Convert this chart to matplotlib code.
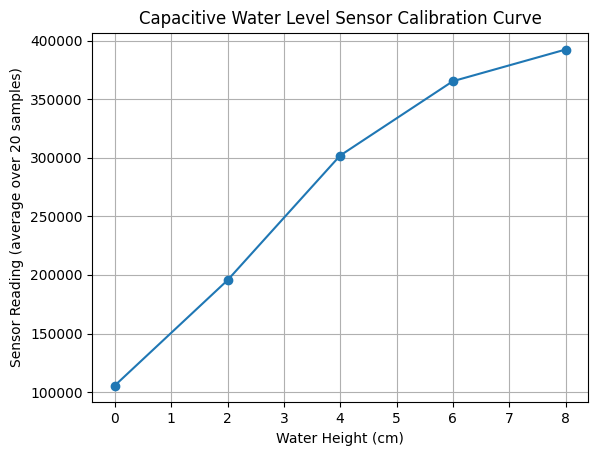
import matplotlib
matplotlib.use("Agg")
import matplotlib.pyplot as plt

heights = [0, 2, 4, 6, 8]
readings = [105700, 195500, 301900, 365300, 392300]

fig = plt.figure(figsize=(5.97, 4.55), dpi=100)
ax = fig.add_axes([0.1546, 0.1158, 0.985 - 0.1546, 0.928 - 0.1158])
ax.plot(heights, readings, marker='o')
ax.set_title("Capacitive Water Level Sensor Calibration Curve")
ax.set_xlabel("Water Height (cm)")
ax.set_ylabel("Sensor Reading (average over 20 samples)")
ax.grid(True)
fig.savefig("out.png", dpi=100)
